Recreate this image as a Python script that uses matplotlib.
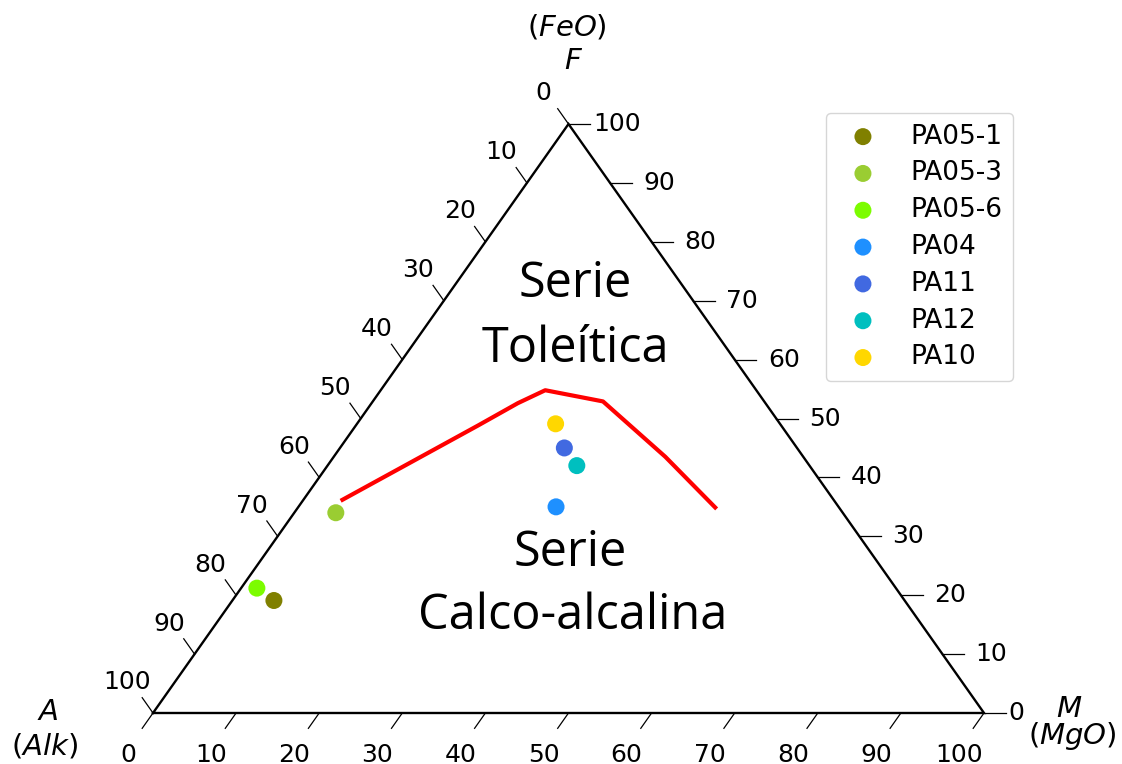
import matplotlib
matplotlib.use("Agg")
import matplotlib.pyplot as plt
import numpy as np

# AFM diagram (Irvine & Baragar): A = Na2O+K2O, F = FeO, M = MgO, in %
samples = ["PA05-1", "PA05-3", "PA05-6", "PA04", "PA11", "PA12", "PA10"]
sample_A = [75.9, 61.0, 76.9, 34.0, 28.0, 28.0, 27.0]
sample_F = [19.1, 34.0, 21.2, 35.0, 45.0, 42.0, 49.1]
sample_M = [5.0, 5.0, 1.9, 31.0, 27.0, 30.0, 23.9]
sample_colors = ["olive", "yellowgreen", "lawngreen", "dodgerblue",
                 "royalblue", "c", "gold"]

# Tholeiitic / calc-alkaline dividing line
line_A = [59.1, 47.8, 36.5, 29.8, 25.4, 19.4, 16.6, 14.9]
line_F = [36.2, 42.5, 48.8, 52.6, 54.8, 52.9, 43.5, 34.9]
line_M = [4.7, 9.7, 14.7, 17.6, 19.8, 27.7, 39.9, 50.2]

tick_values = list(range(0, 101, 10))


def to_xy(a, f, m):
    a, f, m = (np.asarray(v, dtype=float) for v in (a, f, m))
    s = a + f + m
    f, m = f / s, m / s
    return m + f / 2.0, f


W, H = 1122, 764
fig = plt.figure(figsize=(W / 100, H / 100), dpi=100)
ax = fig.add_axes([0, 0, 1, 1])
ax.set_xlim(-153 / 831, (W - 153) / 831)
ax.set_ylim(-(H - 713) / 589, 713 / 589)
ax.axis("off")

# Triangle frame
tri_x = [0, 1, 0.5, 0]
tri_y = [0, 0, 1, 0]
ax.plot(tri_x, tri_y, color="black", lw=1.7, solid_joinstyle="miter", zorder=2)

tick_len = 0.026
tick_fs = 18
for v in tick_values:
    t = v / 100.0
    # bottom edge: M axis
    bx, by = t, 0.0
    ax.plot([bx, bx - 0.5 * tick_len], [by, by - tick_len], color="black", lw=0.9)
    ax.text(bx - 0.0301, by - 0.0713, str(v), fontsize=tick_fs,
            ha="center", va="center")
    # left edge: A axis (A=100 at bottom-left vertex)
    lx, ly = 0.5 * (1 - t), 1 - t
    ax.plot([lx, lx - 0.5 * tick_len], [ly, ly + tick_len], color="black", lw=0.9)
    ax.text(lx - 0.0307, ly + 0.0518, str(v), fontsize=tick_fs,
            ha="center", va="center")
    # right edge: F axis
    rx, ry = 1 - 0.5 * t, t
    ax.plot([rx, rx + tick_len], [ry, ry], color="black", lw=0.9)
    off = 0.059 if v > 0 else 0.039
    ax.text(rx + off, ry, str(v), fontsize=tick_fs, ha="center", va="center")

# Vertex labels
lab_fs = 21
ax.text(0.498, 1.1647, r"$(FeO)$", fontsize=lab_fs, ha="center", va="center")
ax.text(0.506, 1.107, r"$F$", fontsize=lab_fs, ha="center", va="center")
ax.text(-0.1264, 0.0017, r"$A$", fontsize=lab_fs, ha="center", va="center")
ax.text(-0.131, -0.056, r"$(Alk)$", fontsize=lab_fs, ha="center", va="center")
ax.text(1.103, 0.0068, r"$M$", fontsize=lab_fs, ha="center", va="center")
ax.text(1.106, -0.0395, r"$(MgO)$", fontsize=lab_fs, ha="center", va="center")

# Dividing line
lx, ly = to_xy(line_A, line_F, line_M)
ax.plot(lx, ly, color="red", lw=3, zorder=3)

# Field names
field_kw = dict(fontsize=35, family="Open Sans", ha="center", va="baseline")
ax.text((575 - 153) / 831, (713 - 297) / 589, "Serie", **field_kw)
ax.text((575 - 153) / 831, (713 - 362) / 589, "Toleítica", **field_kw)
ax.text((570 - 153) / 831, (713 - 566) / 589, "Serie", **field_kw)
ax.text((573 - 153) / 831, (713 - 629) / 589, "Calco-alcalina", **field_kw)

# Samples
for name, a, f, m, c in zip(samples, sample_A, sample_F, sample_M, sample_colors):
    x, y = to_xy([a], [f], [m])
    ax.scatter(x, y, s=150, color=c, edgecolors="none", label=name, zorder=4)

leg = ax.legend(loc="upper right", bbox_to_anchor=(1013 / W, 1 - 113 / H),
                bbox_transform=fig.transFigure, fontsize=19, labelspacing=0.41,
                borderaxespad=0, frameon=True)
leg.get_frame().set_edgecolor("0.8")

fig.savefig("out.png", dpi=100)
